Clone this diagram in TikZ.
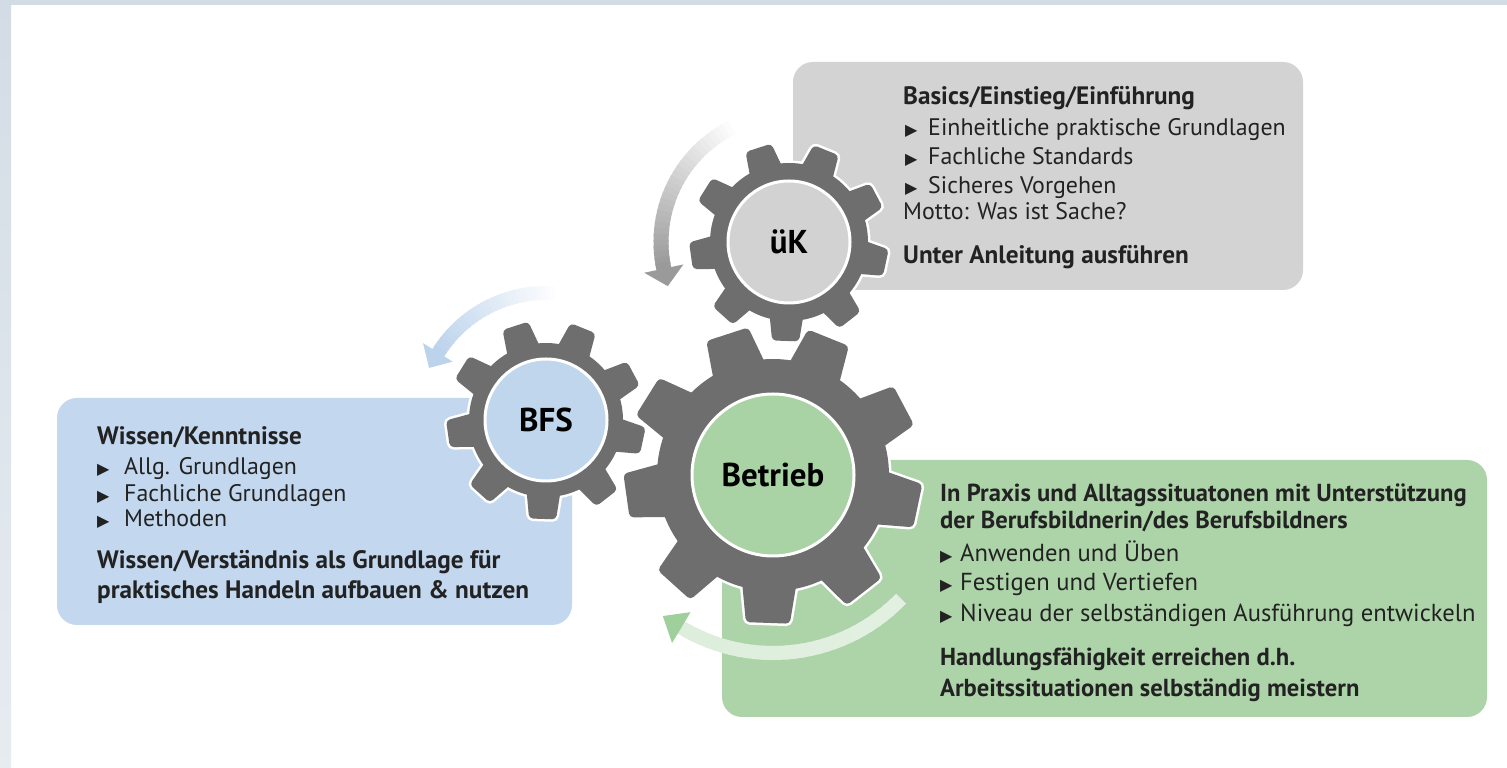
\documentclass[tikz,border=0pt]{standalone}
\usepackage{fontspec}
\setmainfont{PT Sans}
\newfontfamily\symfont{DejaVu Sans}
\usetikzlibrary{calc}
\definecolor{gearcol}{HTML}{6E6E6E}
\definecolor{grayboxcol}{HTML}{D3D3D3}
\definecolor{blueboxcol}{HTML}{C3D8EE}
\definecolor{greenboxcol}{HTML}{ADD4A9}
\definecolor{framecol}{HTML}{D3DCE5}
\definecolor{txtcol}{HTML}{222222}
\definecolor{ukfill}{HTML}{D2D2D2}
\definecolor{bfsfill}{HTML}{C0D6EC}
\definecolor{btfill}{HTML}{A9D3A5}
\definecolor{arrgray}{HTML}{9A9A9A}
\definecolor{arrblue}{HTML}{BCD3EC}
\definecolor{arrgreen}{HTML}{9FCF9B}
\newcommand\mybullet[1][23pt]{\makebox[#1][l]{\raisebox{0.5pt}{\symfont\fontsize{16}{16}\selectfont ▶}}}
% #1 center, #2 root radius, #3 tip radius, #4 base width, #5 tip width, #6 path options
\newcommand\gearshape[6]{%
  \begin{scope}[shift={(#1)}]
    \foreach \a in {28,68,...,348}{
      \path[#6, rotate=\a, rounded corners=4pt] (#2-14,-#4/2) -- (#3,-#5/2) -- (#3,#5/2) -- (#2-14,#4/2) -- cycle;
    }
    \path[#6] (0,0) circle[radius=#2];
  \end{scope}}
% #1 center, #2 radius, #3 start angle, #4 end angle, #5 width, #6 start colour, #7 end colour
\newcommand\gradarc[7]{%
  \foreach \i in {0,...,29}{
    \pgfmathsetmacro\aa{#3+(#4-#3)*\i/30}
    \pgfmathsetmacro\ab{#3+(#4-#3)*(\i+1.4)/30}
    \pgfmathsetmacro\pc{100*\i/29}
    \draw[line width=#5, color=#7!\pc!#6] ($(#1)+(\aa:#2)$) arc[start angle=\aa, end angle=\ab, radius=#2];
  }}
\begin{document}
\begin{tikzpicture}[x=1pt,y=1pt,
  boxtxt/.style={anchor=base west, inner sep=0pt, text=txtcol, font=\fontsize{23.9}{26}\selectfont},
  boxbold/.style={boxtxt, font=\fontsize{25.2}{27}\selectfont\bfseries},
  greentxt/.style={anchor=base west, inner sep=0pt, text=txtcol, font=\fontsize{24.6}{27}\selectfont},
  greenbold/.style={greentxt, font=\fontsize{24.6}{27}\selectfont\bfseries},
  infobox/.style={rectangle, rounded corners=20pt, inner sep=0pt, outer sep=0pt, anchor=south west},
  innercirc/.style={circle, draw=white, line width=3pt, inner sep=0pt, text=black, font=\fontsize{33}{35}\selectfont\bfseries},
]
\useasboundingbox (0,0) rectangle (1507,768);
\fill[white] (0,0) rectangle (1507,768);
\shade[top color=framecol, bottom color=framecol!55!white] (0,0) rectangle (11,768);
\fill[framecol] (0,763) rectangle (1507,768);

% boxes
\node[infobox, fill=grayboxcol, minimum width=510pt, minimum height=228pt] (ukbox) at (793,478) {};
\node[infobox, fill=blueboxcol, minimum width=515pt, minimum height=227pt] (bfsbox) at (57,143) {};
\node[infobox, fill=greenboxcol, minimum width=765pt, minimum height=257pt] (btbox) at (722,51) {};

% gear centres
\coordinate (uk) at (789,526);
\coordinate (bfs) at (546,348);
\coordinate (bt) at (773,293);

% rotation arrows
\gradarc{uk}{128}{114}{192}{15}{white}{arrgray}
\fill[arrgray] ($(uk)+(192:108)$) -- ($(uk)+(200:129)$) -- ($(uk)+(192:148)$) -- cycle;
\gradarc{bfs}{127}{84}{148}{14}{white}{arrblue}
\fill[arrblue] ($(bfs)+(148:110)$) -- ($(bfs)+(156:128)$) -- ($(bfs)+(148:145)$) -- cycle;
\gradarc{bt}{178}{-44}{-121}{14}{greenboxcol!35!white}{arrgreen}
\fill[arrgreen] ($(bt)+(-121:160)$) -- ($(bt)+(-128:179)$) -- ($(bt)+(-121:196)$) -- cycle;

% gears
\gearshape{bt}{116}{148}{56}{44}{draw=white, line width=5pt}
\gearshape{bt}{116}{148}{56}{44}{fill=gearcol}
\gearshape{uk}{79}{99}{36}{27}{draw=white, line width=5pt}
\gearshape{uk}{79}{99}{36}{27}{fill=gearcol}
\gearshape{bfs}{77}{99}{36}{27}{draw=white, line width=5pt}
\gearshape{bfs}{77}{99}{36}{27}{fill=gearcol}

\node[innercirc, fill=ukfill, minimum size=122pt] (ukc) at (uk) {üK};
\node[innercirc, fill=bfsfill, minimum size=122pt] (bfsc) at (bfs) {BFS};
\node[innercirc, fill=btfill, minimum size=162pt] (btc) at (bt) {Betrieb};

% grey box text
\node[boxbold] (g1) at (903,663) {Basics/Einstieg/Einführung};
\node[boxtxt] (g2) at (905,632) {\mybullet Einheitliche praktische Grundlagen};
\node[boxtxt] (g3) at (905,603) {\mybullet Fachliche Standards};
\node[boxtxt] (g4) at (905,574) {\mybullet Sicheres Vorgehen};
\node[boxtxt] (g5) at (903,548) {Motto: Was ist Sache?};
\node[boxbold] (g6) at (903,504) {Unter Anleitung ausführen};

% blue box text
\node[boxbold] (b1) at (97,323) {Wissen/Kenntnisse};
\node[boxtxt] (b2) at (97,293) {\mybullet[27pt]Allg. Grundlagen};
\node[boxtxt] (b3) at (97,266) {\mybullet[27pt]Fachliche Grundlagen};
\node[boxtxt] (b4) at (97,241) {\mybullet[27pt]Methoden};
\node[boxbold] (b5) at (97,199) {Wissen/Verständnis als Grundlage für};
\node[boxbold] (b6) at (97,169) {praktisches Handeln aufbauen \& nutzen};

% green box text
\node[greenbold] (p1) at (940,266) {In Praxis und Alltagssituatonen mit Unterstützung};
\node[greenbold] (p2) at (940,239) {der Berufsbildnerin/des Berufsbildners};
\node[greentxt] (p3) at (940,206) {\mybullet[20pt]Anwenden und Üben};
\node[greentxt] (p4) at (940,177) {\mybullet[20pt]Festigen und Vertiefen};
\node[greentxt] (p5) at (940,146) {\mybullet[20pt]Niveau der selbständigen Ausführung entwickeln};
\node[greenbold] (p6) at (940,102) {Handlungsfähigkeit erreichen d.h.};
\node[greenbold] (p7) at (940,71) {Arbeitssituationen selbständig meistern};
\end{tikzpicture}
\end{document}
